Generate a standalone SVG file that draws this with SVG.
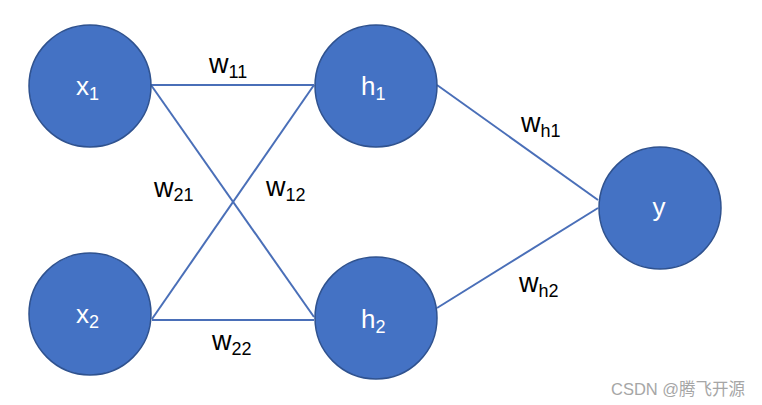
<svg xmlns="http://www.w3.org/2000/svg" width="762" height="405" viewBox="0 0 762 405">
<style>
.node{fill:#4472C4;stroke:#2F528F;stroke-width:1.5}
.edge{stroke:#4A6FB8;stroke-width:2;fill:none}
.nl{fill:#FFFFFF;font-family:"Liberation Sans",Arial,sans-serif;font-size:26px}
.wl{fill:#000000;font-family:"Liberation Sans",Arial,sans-serif;font-size:27px}
.sub{font-size:18px}
.wm{fill:#A6A6A6;font-family:"Liberation Sans","Noto Sans CJK SC",sans-serif;font-size:16.5px}
</style>
<rect width="762" height="405" fill="#FFFFFF"/>
<g id="connectors">
<line class="edge" x1="151" y1="85" x2="314" y2="85"/>
<line class="edge" x1="151" y1="85" x2="314" y2="317"/>
<line class="edge" x1="152" y1="319" x2="314" y2="85"/>
<line class="edge" x1="152" y1="320" x2="314" y2="320"/>
<line class="edge" x1="437" y1="85" x2="598" y2="200"/>
<line class="edge" x1="437" y1="308" x2="598" y2="208"/>
</g>
<g id="labels">
<text class="wl" x="209" y="73">w<tspan class="sub" dy="5">11</tspan></text>
<text class="wl" x="154" y="197">w<tspan class="sub" dy="4">21</tspan></text>
<text class="wl" x="266" y="196">w<tspan class="sub" dy="5">12</tspan></text>
<text class="wl" x="212" y="350">w<tspan class="sub" dy="5">22</tspan></text>
<text class="wl" x="521" y="132">w<tspan class="sub" dy="5">h1</tspan></text>
<text class="wl" x="519" y="292">w<tspan class="sub" dy="5">h2</tspan></text>
</g>
<g id="x1">
<circle class="node" cx="90" cy="86" r="61"/>
<text class="nl" x="76" y="95">x<tspan class="sub" dy="5">1</tspan></text>
</g>
<g id="x2">
<circle class="node" cx="90" cy="314" r="61"/>
<text class="nl" x="76" y="323">x<tspan class="sub" dy="5">2</tspan></text>
</g>
<g id="h1">
<circle class="node" cx="376" cy="86" r="61"/>
<text class="nl" x="361" y="95">h<tspan class="sub" dy="5">1</tspan></text>
</g>
<g id="h2">
<circle class="node" cx="376" cy="318" r="61"/>
<text class="nl" x="361" y="328">h<tspan class="sub" dy="5">2</tspan></text>
</g>
<g id="y">
<circle class="node" cx="660" cy="208" r="61"/>
<text class="nl" x="659" y="216" text-anchor="middle">y</text>
</g>
<text class="wm" x="611" y="395">CSDN @腾飞开源</text>
</svg>
